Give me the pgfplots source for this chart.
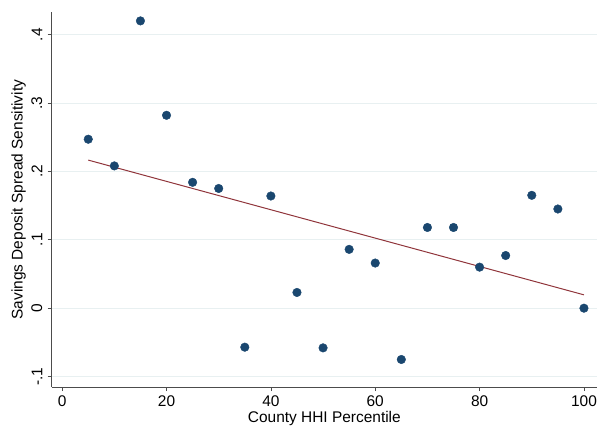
\documentclass[border=0pt]{standalone}
\usepackage{fontspec}
\setmainfont{Liberation Sans}
\usepackage{pgfplots}
\pgfplotsset{compat=1.18}
\usetikzlibrary{calc}
\definecolor{stnavy}{RGB}{26,71,111}
\definecolor{stmaroon}{RGB}{144,53,59}
\definecolor{stgrid}{RGB}{232,240,241}
\begin{document}
\fontsize{15.5}{18}\selectfont
\begin{tikzpicture}
\begin{axis}[
  scale only axis,
  width=545bp, height=375bp,
  xmin=-2, xmax=102.5,
  ymin=-0.1155, ymax=0.433,
  axis lines=left,
  axis line style={draw=black!70, line width=0.8pt, -},
  xtick={0,20,...,100},
  ytick={-0.1,0,0.1,0.2,0.3,0.4},
  yticklabels={-.1,0,.1,.2,.3,.4},
  tick align=outside,
  major tick length=4bp,
  tick style={black!70, line width=0.7pt},
  /pgf/number format/assume math mode=true,
  ticklabel style={font=\fontsize{15.5}{18}\selectfont},
  x tick label style={yshift=1bp},
  y tick label style={rotate=90, anchor=south, yshift=0bp},
  ymajorgrids, grid style={stgrid, line width=0.8pt},
  xlabel={County HHI Percentile},
  ylabel={Savings Deposit Spread Sensitivity},
  label style={font=\fontsize{15.5}{18}\selectfont},
  xlabel style={yshift=6bp},
  ylabel style={yshift=-5bp},
  clip=false,
]
\addplot[only marks, mark=*, mark size=4.3bp, mark options={fill=stnavy, draw=stnavy}]
  coordinates {(5,0.247) (10,0.208) (15,0.420) (20,0.282) (25,0.184)
   (30,0.175) (35,-0.057) (40,0.164) (45,0.023) (50,-0.058)
   (55,0.086) (60,0.066) (65,-0.075) (70,0.118) (75,0.118)
   (80,0.060) (85,0.077) (90,0.165) (95,0.145) (100,0.0)};
\addplot[stmaroon, line width=1pt, no marks]
  coordinates {(5,0.2165) (100,0.0195)};
\coordinate (ll) at (rel axis cs:0,0);
\coordinate (ur) at (rel axis cs:1,1);
\end{axis}
\pgfresetboundingbox
\path[use as bounding box] ($(ll)+(-51.7bp,-42bp)$) rectangle ($(ur)+(3bp,12bp)$);
\end{tikzpicture}
\end{document}
